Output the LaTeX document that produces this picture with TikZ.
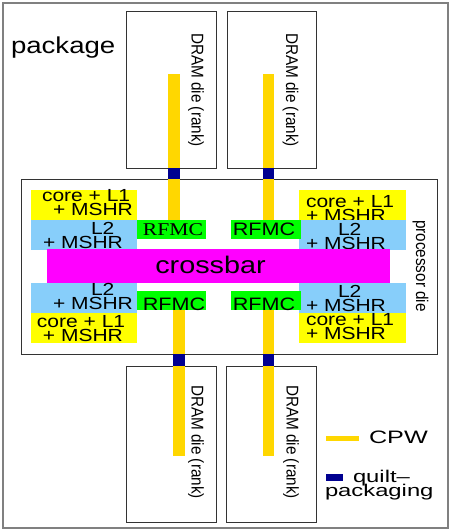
\documentclass[tikz,border=0pt]{standalone}
\usepackage{fontspec}
\setmainfont{Liberation Sans}[FakeStretch=1.2]
\newfontfamily\rotfont{Liberation Sans}[FakeStretch=0.9]
\newfontfamily\widefont{Liberation Sans}[FakeStretch=1.4, Ligatures=TeX]
\newfontfamily\rfmcserif{Liberation Serif}[FakeStretch=1.2]

\definecolor{cpwyellow}{HTML}{FFD700}
\definecolor{quiltblue}{HTML}{000090}
\definecolor{l2blue}{HTML}{87CEFA}
\definecolor{coreyellow}{HTML}{FFFF00}
\definecolor{rfmcgreen}{HTML}{00FF00}
\definecolor{xbarmagenta}{HTML}{FF00FF}

\begin{document}
\begin{tikzpicture}[x=1pt, y=-1pt,
  every node/.style={inner sep=0pt, outer sep=0pt},
  outline/.style 2 args={draw=black!80, line width=0.8pt, anchor=north west,
    minimum width=#1pt, minimum height=#2pt},
  area/.style n args={3}{fill=#1, anchor=north west,
    minimum width=#2pt, minimum height=#3pt},
  blocktxt/.style={anchor=west, align=left, font=\fontsize{17.5}{14.5}\selectfont},
  rfmctxt/.style={anchor=base, font=\fontsize{18}{18}\selectfont},
  vlabel/.style={rotate=-90, anchor=base west, font=\rotfont\fontsize{17}{17}\selectfont},
  cpw/.style={draw=cpwyellow, line width=11.5pt},
  quilt/.style={fill=quiltblue, anchor=north, minimum width=11.5pt, minimum height=#1pt}]
  \useasboundingbox (0,0) rectangle (449,531);

  % package and dies
  \node[outline={445}{525}, draw=gray, line width=1.5pt] (package) at (3,3) {};
  \node[anchor=base west, font=\fontsize{23}{23}\selectfont] (package-label) at (11,53) {package};

  \node[outline={90}{157}] (dram-tl) at (126,11) {};
  \node[outline={89}{157}] (dram-tr) at (227,11) {};
  \node[outline={416}{175}] (die) at (21,179) {};
  \node[outline={90}{156}] (dram-bl) at (126,366) {};
  \node[outline={90}{156}] (dram-br) at (226,366) {};

  \node[vlabel] (dram-tl-label) at (191.5,33) {DRAM die (rank)};
  \node[vlabel] (dram-tr-label) at (286,33) {DRAM die (rank)};
  \node[vlabel] (dram-bl-label) at (191.5,385) {DRAM die (rank)};
  \node[vlabel] (dram-br-label) at (286.5,385) {DRAM die (rank)};
  \node[vlabel] (die-label) at (416,220) {processor die};

  % blocks on the processor die
  \node[area={coreyellow}{106}{30}] (core-tl) at (31,190) {};
  \node[blocktxt] (core-tl-txt) at (42,202.6) {core + L1\\\hspace*{11pt}+ MSHR};
  \node[area={coreyellow}{107}{30}] (core-tr) at (299,190) {};
  \node[blocktxt] (core-tr-txt) at (306,208.6) {core + L1\\+ MSHR};
  \node[area={l2blue}{106}{30}] (l2-tl) at (31,220) {};
  \node[blocktxt] (l2-tl-txt) at (43,235.6) {\hspace*{48pt}L2\\+ MSHR};
  \node[area={l2blue}{107}{30}] (l2-tr) at (299,220) {};
  \node[blocktxt] (l2-tr-txt) at (306,236.6) {\hspace*{32pt}L2\\+ MSHR};

  \node[area={rfmcgreen}{69}{19}] (rfmc-tl) at (137,220) {};
  \node[rfmctxt, font=\rfmcserif\fontsize{18}{18}\selectfont] (rfmc-tl-txt) at (173,235) {RFMC};
  \node[area={rfmcgreen}{70}{19}] (rfmc-tr) at (231,220) {};
  \node[rfmctxt] (rfmc-tr-txt) at (264,235) {RFMC};

  \node[area={xbarmagenta}{343}{34}] (xbar) at (47,249) {};
  \node[anchor=base, font=\fontsize{24}{24}\selectfont] (xbar-txt) at (210.5,273) {crossbar};

  \node[area={l2blue}{106}{30}] (l2-bl) at (31,283) {};
  \node[blocktxt] (l2-bl-txt) at (53,296.6) {\hspace*{38pt}L2\\+ MSHR};
  \node[area={l2blue}{107}{30}] (l2-br) at (299,283) {};
  \node[blocktxt] (l2-br-txt) at (306,298.6) {\hspace*{32pt}L2\\+ MSHR};
  \node[area={coreyellow}{106}{30}] (core-bl) at (31,313) {};
  \node[blocktxt] (core-bl-txt) at (37,328.6) {core + L1\\\hspace*{6pt}+ MSHR};
  \node[area={coreyellow}{107}{30}] (core-br) at (299,313) {};
  \node[blocktxt] (core-br-txt) at (306,326.6) {core + L1\\+ MSHR};

  \node[area={rfmcgreen}{69}{19}] (rfmc-bl) at (137,291) {};
  \node[rfmctxt] (rfmc-bl-txt) at (174,310) {RFMC};
  \node[area={rfmcgreen}{70}{19}] (rfmc-br) at (231,291) {};
  \node[rfmctxt] (rfmc-br-txt) at (264,310) {RFMC};

  % CPW links and quilt-packaging joints
  \coordinate (cpw-tl) at (174,74);
  \coordinate (cpw-tr) at (268.5,74);
  \coordinate (cpw-bl) at (179,456);
  \coordinate (cpw-br) at (268.5,456);
  \draw[cpw] (cpw-tl) -- (cpw-tl |- rfmc-tl.north);
  \draw[cpw] (cpw-tr) -- (cpw-tr |- rfmc-tr.north);
  \draw[cpw] (cpw-bl |- rfmc-bl.south) -- (cpw-bl);
  \draw[cpw] (cpw-br |- rfmc-br.south) -- (cpw-br);
  \node[quilt=11] (quilt-tl) at (cpw-tl |- dram-tl.south) {};
  \node[quilt=11] (quilt-tr) at (cpw-tr |- dram-tr.south) {};
  \node[quilt=12] (quilt-bl) at (cpw-bl |- die.south) {};
  \node[quilt=12] (quilt-br) at (cpw-br |- die.south) {};

  % legend
  \coordinate (legend-cpw-a) at (326,438.5);
  \coordinate (legend-cpw-b) at (359,438.5);
  \draw[cpw, line width=5pt] (legend-cpw-a) -- (legend-cpw-b);
  \node[anchor=base west, font=\widefont\fontsize{18}{18}\selectfont] (legend-cpw) at (369,443) {CPW};
  \node[fill=quiltblue, anchor=north west, minimum width=17pt, minimum height=7pt] (legend-quilt) at (326,474) {};
  \node[anchor=base west, font=\widefont\fontsize{17}{17}\selectfont] (legend-quilt-a) at (353,482) {quilt--};
  \node[anchor=base west, font=\widefont\fontsize{17}{17}\selectfont] (legend-quilt-b) at (325,496) {packaging};
\end{tikzpicture}
\end{document}
